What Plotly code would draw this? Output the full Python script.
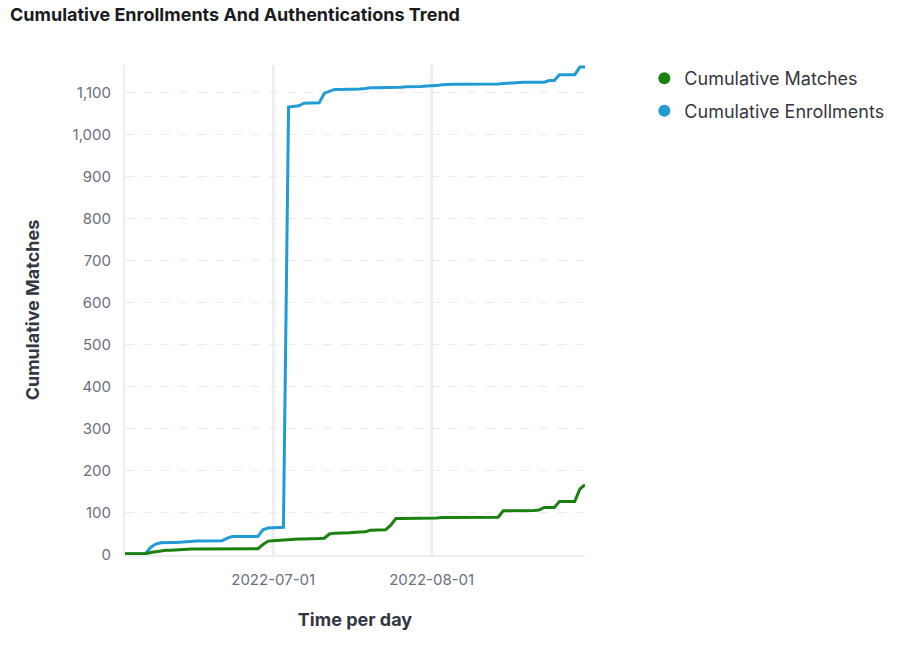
import pandas as pd
import plotly.graph_objects as go

dates = pd.date_range("2022-06-02", "2022-08-31", freq="D").strftime("%Y-%m-%d").tolist()

enrollments = [
    # June 2 - June 30
    3, 3, 3, 3, 3, 18, 26, 29, 30, 30, 30, 31, 31, 32, 33, 33, 33, 33, 33, 34,
    40, 44, 44, 44, 44, 44, 44, 60, 64,
    # July 1 - July 31
    65, 65, 66, 1065, 1066, 1068, 1074, 1074, 1074, 1075, 1098, 1102, 1107, 1107,
    1107, 1108, 1108, 1108, 1109, 1111, 1111, 1111, 1112, 1112, 1112, 1112, 1113,
    1113, 1114, 1114, 1115,
    # Aug 1 - Aug 31
    1115, 1116, 1118, 1119, 1119, 1119, 1119, 1119, 1119, 1119, 1120, 1120, 1120,
    1120, 1121, 1122, 1123, 1124, 1124, 1124, 1124, 1124, 1124, 1128, 1128, 1142,
    1142, 1142, 1142, 1160, 1160,
]

matches = [
    # June 2 - June 30
    3, 3, 3, 3, 3, 6, 8, 10, 11, 11, 12, 13, 14, 14, 14, 14, 14, 14, 14, 15,
    15, 15, 15, 15, 15, 15, 15, 25, 33,
    # July 1 - July 31
    34, 35, 36, 36, 37, 38, 38, 38, 38, 39, 40, 50, 52, 52, 52, 53, 54, 54, 55,
    59, 59, 59, 60, 71, 87, 87, 87, 87, 87, 87, 87,
    # Aug 1 - Aug 31
    88, 88, 89, 89, 89, 89, 89, 89, 89, 90, 90, 90, 90, 90, 105, 105, 105, 105,
    106, 106, 106, 107, 113, 113, 113, 127, 127, 127, 127, 157, 167,
]

GREEN = "#1a800f"
BLUE = "#219bd4"

fig = go.Figure()
fig.add_trace(go.Scatter(x=dates, y=enrollments, mode="lines", name="Cumulative Enrollments",
                         line=dict(color=BLUE, width=3), showlegend=False))
fig.add_trace(go.Scatter(x=dates, y=matches, mode="lines", name="Cumulative Matches",
                         line=dict(color=GREEN, width=3), showlegend=False))
# legend entries with round markers
fig.add_trace(go.Scatter(x=[None], y=[None], mode="markers", name="Cumulative Matches",
                         legendgroup="m", marker=dict(color=GREEN, size=11, symbol="circle")))
fig.add_trace(go.Scatter(x=[None], y=[None], mode="markers", name="Cumulative Enrollments",
                         legendgroup="e", marker=dict(color=BLUE, size=11, symbol="circle")))

fig.update_layout(
    width=903, height=646,
    margin=dict(l=125, r=318, t=65, b=91),
    plot_bgcolor="white", paper_bgcolor="white",
    font=dict(family="Inter", color="#343741"),
    title=dict(text="<b>Cumulative Enrollments And Authentications Trend</b>",
               x=10 / 903, xanchor="left", y=1 - 15 / 646, yanchor="middle",
               font=dict(family="Inter", size=18, color="#1a1c21")),
    legend=dict(x=1.129, xanchor="left", y=1.01, yanchor="top",
                font=dict(family="Inter", size=18, color="#343741"),
                traceorder="grouped", itemsizing="constant", itemwidth=30,
                tracegroupgap=6),
    showlegend=True,
)

fig.update_xaxes(
    type="date", range=["2022-06-02", "2022-08-31"],
    tick0="2022-07-01", dtick="M1", tickformat="%Y-%m-%d",
    showgrid=True, gridcolor="#eceef2", gridwidth=3,
    showline=True, linecolor="#eceef2", linewidth=2,
    ticks="", ticklabelstandoff=10,
    tickfont=dict(family="Inter", size=15, color="#69707d"),
    title=dict(text="<b>Time per day</b>", font=dict(family="Inter", size=18, color="#343741"),
               standoff=25),
    zeroline=False,
)
fig.update_yaxes(
    range=[0, 1165], dtick=100, tickformat=",d",
    showgrid=True, gridcolor="#e9ebef", gridwidth=1, griddash="dash",
    showline=True, linecolor="#eceef2", linewidth=2,
    ticks="", ticklabelstandoff=9,
    tickfont=dict(family="Inter", size=15, color="#69707d"),
    title=dict(text="<b>Cumulative Matches</b>", font=dict(family="Inter", size=18, color="#343741"),
               standoff=28),
    zeroline=False,
)

fig.write_html("out.html")
